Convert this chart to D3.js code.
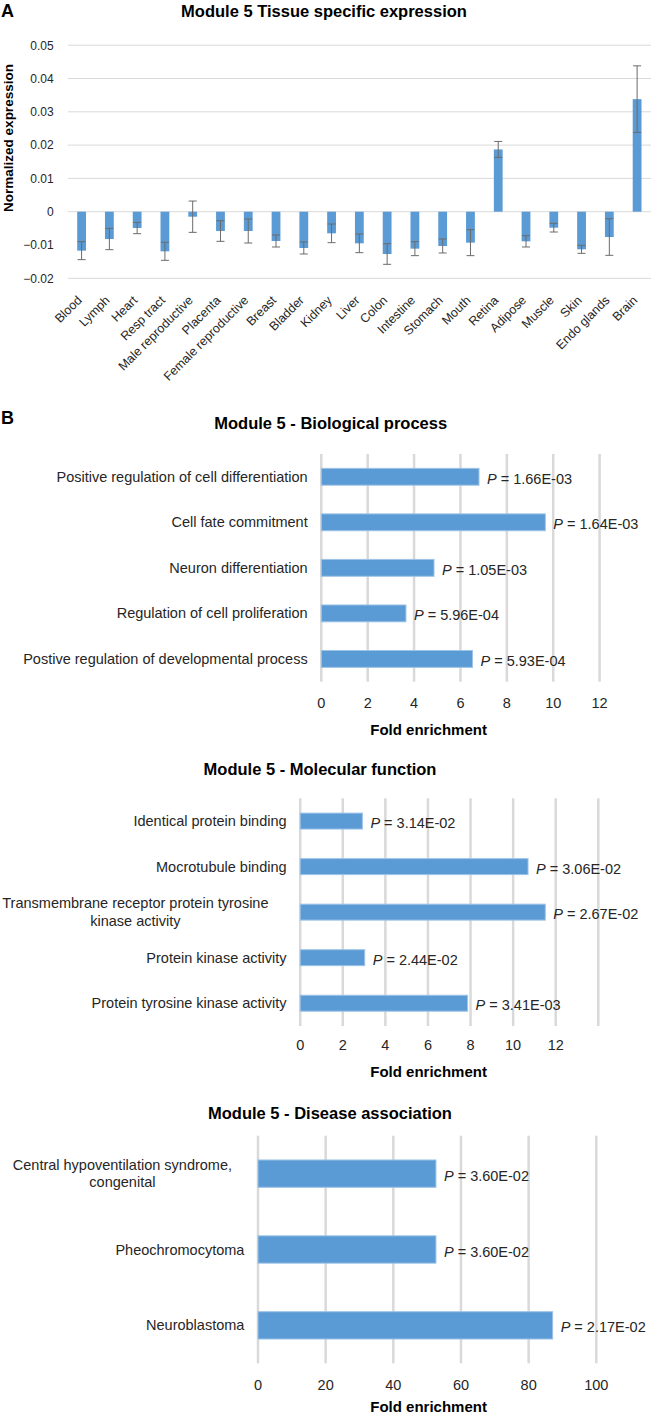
<!DOCTYPE html>
<html><head><meta charset="utf-8">
<script src="https://cdn.jsdelivr.net/npm/d3@7"></script>
<style>
body{margin:0;background:#fff}
svg{display:block}
text{font-family:"Liberation Sans",Arial,Helvetica,sans-serif}
</style>
</head><body>
<svg id="c" width="653" height="1415"></svg>
<script>
// ---------- DATA ----------
const tissueCategories = ["Blood","Lymph","Heart","Resp tract","Male reproductive","Placenta","Female reproductive","Breast","Bladder","Kidney","Liver","Colon","Intestine","Stomach","Mouth","Retina","Adipose","Muscle","Skin","Endo glands","Brain"];
const tissueValues = [-0.0117,-0.0082,-0.0049,-0.0119,-0.0015,-0.0058,-0.0058,-0.0088,-0.0109,-0.0065,-0.0095,-0.0127,-0.0111,-0.0103,-0.0093,0.0187,-0.0089,-0.0048,-0.0113,-0.0076,0.0338];
const tissueErrors = [0.0027,0.0032,0.0017,0.0027,0.0047,0.0031,0.0036,0.0018,0.0018,0.0028,0.0028,0.0031,0.0021,0.0021,0.0039,0.0024,0.0017,0.0013,0.0012,0.0055,0.0100];
const tissueTicks = [0.05,0.04,0.03,0.02,0.01,0,-0.01,-0.02];
const tissueGrid = [0.05,0.04,0.03,0.02,0.01,0,-0.02];

const bpTerms = ["Positive regulation of cell differentiation","Cell fate commitment","Neuron differentiation","Regulation of cell proliferation","Postive regulation of developmental process"];
const bpFold = [6.80,9.66,4.86,3.65,6.52];
const bpP = ["1.66E-03","1.64E-03","1.05E-03","5.96E-04","5.93E-04"];
const bpTicks = [0,2,4,6,8,10,12];
const bpGrid = [0,2,4,6,8,10,12];

const mfTerms = ["Identical protein binding","Mocrotubule binding","Transmembrane receptor protein tyrosine\nkinase activity","Protein kinase activity","Protein tyrosine kinase activity"];
const mfFold = [2.92,10.70,11.51,3.03,7.86];
const mfP = ["3.14E-02","3.06E-02","2.67E-02","2.44E-02","3.41E-03"];
const mfTicks = [0,2,4,6,8,10,12];
const mfGrid = [0,2,4,6,8,10,12,14];

const daTerms = ["Central hypoventilation syndrome,\ncongenital","Pheochromocytoma","Neuroblastoma"];
const daFold = [52.6,52.6,87.1];
const daP = ["3.60E-02","3.60E-02","2.17E-02"];
const daTicks = [0,20,40,60,80,100];
const daGrid = [0,20,40,60,80,100];

// ---------- DRAW ----------
const svg = d3.select("#c");
const BLUE = "#5b9bd5", GRID = "#d9d9d9", TXT = "#262626";

// ===== Panel A =====
svg.append("text").attr("x",1).attr("y",17).attr("font-size",18).attr("font-weight","bold").attr("fill","#000").text("A");
svg.append("text").attr("x",324).attr("y",17).attr("text-anchor","middle").attr("font-size",16.5).attr("font-weight","bold").attr("fill","#000").text("Module 5 Tissue specific expression");

const xA = d3.scaleBand().domain(tissueCategories).range([67.7,651]);
const yA = d3.scaleLinear().domain([-0.02,0.05]).range([278.3,45.2]);

svg.append("g").selectAll("line").data(tissueGrid).join("line")
  .attr("x1",67.7).attr("x2",651).attr("y1",d=>yA(d)).attr("y2",d=>yA(d))
  .attr("stroke",GRID).attr("stroke-width",1);

const yAxisA = svg.append("g").attr("transform","translate(67.7,0)")
  .call(d3.axisLeft(yA).tickValues(tissueTicks).tickSize(0).tickPadding(14)
    .tickFormat(d=> d===0 ? "0" : d3.format(".2f")(d)));
yAxisA.select(".domain").remove();
yAxisA.selectAll("text").attr("font-size",12).attr("fill",TXT).attr("font-family","Liberation Sans, Arial, sans-serif");

svg.append("text").attr("transform","translate(13,138) rotate(-90)").attr("text-anchor","middle")
  .attr("font-size",13.5).attr("font-weight","bold").attr("fill","#000").text("Normalized expression");

const bwA = 8.8;
const tissue = tissueCategories.map((c,i)=>({c, v:tissueValues[i], e:tissueErrors[i]}));
svg.append("g").selectAll("rect").data(tissue).join("rect")
  .attr("x",d=>xA(d.c)+xA.bandwidth()/2-bwA/2).attr("width",bwA)
  .attr("y",d=>Math.min(yA(d.v),yA(0))).attr("height",d=>Math.abs(yA(d.v)-yA(0)))
  .attr("fill",BLUE);

const eg = svg.append("g").attr("stroke","#6b6b6b").attr("stroke-width",1);
tissue.forEach(d=>{
  const cx = xA(d.c)+xA.bandwidth()/2;
  eg.append("line").attr("x1",cx).attr("x2",cx).attr("y1",yA(d.v-d.e)).attr("y2",yA(d.v+d.e));
  [d.v-d.e,d.v+d.e].forEach(w=>{
    eg.append("line").attr("x1",cx-4).attr("x2",cx+4).attr("y1",yA(w)).attr("y2",yA(w));
  });
});

svg.append("g").selectAll("text").data(tissueCategories).join("text")
  .attr("transform",d=>`translate(${xA(d)+xA.bandwidth()/2+1},301) rotate(-45)`)
  .attr("text-anchor","end").attr("font-size",12.5).attr("fill",TXT).text(d=>d);

// ===== Panel B =====
svg.append("text").attr("x",1).attr("y",424).attr("font-size",18).attr("font-weight","bold").attr("fill","#000").text("B");

function drawPanel(cfg, terms, folds, ps, ticks, grid){
  const g = svg.append("g");
  g.append("text").attr("x",cfg.titleX).attr("y",cfg.titleY).attr("dy","0.35em").attr("text-anchor","middle")
    .attr("font-size",16.5).attr("font-weight","bold").attr("fill","#000").text(cfg.title);
  const x = d3.scaleLinear().domain(cfg.domain).range(cfg.range);
  const y = d3.scaleBand().domain(terms).range([cfg.top,cfg.bottom]);
  g.append("g").selectAll("line").data(grid).join("line")
    .attr("x1",d=>x(d)).attr("x2",d=>x(d)).attr("y1",cfg.top).attr("y2",cfg.bottom)
    .attr("stroke",GRID).attr("stroke-width",2.5);
  const bh = y.bandwidth()*cfg.barFrac;
  const rows = terms.map((t,i)=>({t, f:folds[i], p:ps[i]}));
  g.append("g").selectAll("rect").data(rows).join("rect")
    .attr("x",x(0)).attr("width",d=>x(d.f)-x(0))
    .attr("y",d=>y(d.t)+y.bandwidth()/2-bh/2).attr("height",bh)
    .attr("fill",BLUE).attr("stroke","#9dc3e6").attr("stroke-width",1);
  const pl = g.append("g").selectAll("text").data(rows).join("text")
    .attr("x",d=>x(d.f)+8).attr("y",d=>y(d.t)+y.bandwidth()/2+2).attr("dy","0.35em")
    .attr("font-size",14.5).attr("fill",TXT);
  pl.append("tspan").attr("font-style","italic").text("P");
  pl.append("tspan").text(d=>" = "+d.p);
  rows.forEach(d=>{
    const lines = d.t.split("\n");
    const cy = y(d.t)+y.bandwidth()/2;
    if(lines.length===1){
      g.append("text").attr("x",x(0)-13.6).attr("y",cy).attr("dy","0.35em").attr("text-anchor","end")
        .attr("font-size",14.5).attr("fill",TXT).text(lines[0]);
    } else {
      lines.forEach((ln,k)=>{
        g.append("text").attr("x",cfg.multiX).attr("y",cy+(k-(lines.length-1)/2)*17.5).attr("dy","0.35em")
          .attr("text-anchor","middle").attr("font-size",14.5).attr("fill",TXT).text(ln);
      });
    }
  });
  g.append("g").selectAll("text").data(ticks).join("text")
    .attr("x",d=>x(d)).attr("y",cfg.tickY).attr("dy","0.35em").attr("text-anchor","middle")
    .attr("font-size",14.5).attr("fill",TXT).text(d=>d);
  g.append("text").attr("x",428.6).attr("y",cfg.foldY).attr("dy","0.35em").attr("text-anchor","middle")
    .attr("font-size",15).attr("font-weight","bold").attr("fill","#000").text("Fold enrichment");
}

drawPanel({title:"Module 5 - Biological process", titleX:330.7, titleY:423.3, domain:[0,12], range:[321.3,599.6],
  top:454, bottom:681.7, barFrac:0.37, tickY:702.7, foldY:729.3}, bpTerms, bpFold, bpP, bpTicks, bpGrid);
drawPanel({title:"Module 5 - Molecular function", titleX:320, titleY:769.3, domain:[0,14], range:[300.2,598.3],
  top:798.3, bottom:1026, barFrac:0.35, tickY:1045, foldY:1071.7, multiX:135.4}, mfTerms, mfFold, mfP, mfTicks, mfGrid);
drawPanel({title:"Module 5 - Disease association", titleX:330, titleY:1113.3, domain:[0,100], range:[258,596.3],
  top:1135.7, bottom:1363.3, barFrac:0.36, tickY:1385, foldY:1406.5, multiX:122.4}, daTerms, daFold, daP, daTicks, daGrid);
</script>
</body></html>
